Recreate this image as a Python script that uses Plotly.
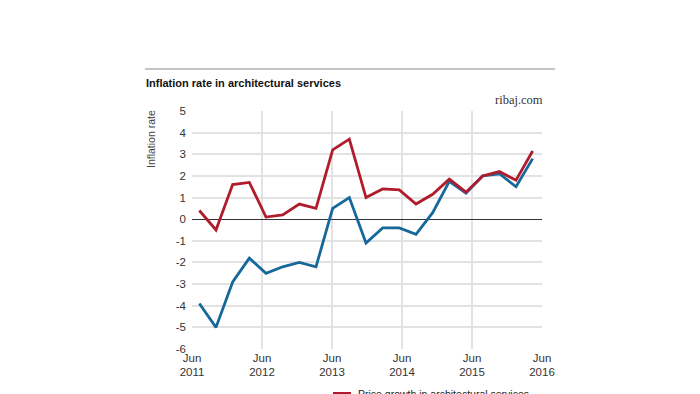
import plotly.graph_objects as go

# ---- data ----
quarters = ["Q3 2011", "Q4 2011", "Q1 2012", "Q2 2012", "Q3 2012", "Q4 2012", "Q1 2013",
            "Q2 2013", "Q3 2013", "Q4 2013", "Q1 2014", "Q2 2014", "Q3 2014", "Q4 2014",
            "Q1 2015", "Q2 2015", "Q3 2015", "Q4 2015", "Q1 2016", "Q2 2016", "Q3 2016"]
price_growth = [0.4, -0.5, 1.6, 1.7, 0.1, 0.2, 0.7, 0.5, 3.2, 3.7, 1.0,
                1.4, 1.35, 0.7, 1.15, 1.85, 1.25, 2.0, 2.2, 1.8, 3.15]
real_growth = [-3.9, -5.0, -2.9, -1.8, -2.5, -2.2, -2.0, -2.2, 0.5, 1.0, -1.1,
               -0.4, -0.4, -0.7, 0.3, 1.75, 1.2, 2.0, 2.1, 1.5, 2.8]
x_tick_labels = ["Jun<br>2011", "Jun<br>2012", "Jun<br>2013", "Jun<br>2014", "Jun<br>2015", "Jun<br>2016"]
y_tick_values = [5, 4, 3, 2, 1, 0, -1, -2, -3, -4, -5, -6]
title_text = "Inflation rate in architectural services"
source_text = "ribaj.com"
y_title = "Inflation rate"
legend_red = "Price growth in architectural services"
legend_blue = "Real price growth in architectural services"

RED = "#b01c2c"
BLUE = "#17689a"

idx = list(range(len(quarters)))

# axis geometry (positions of Jun gridlines in index units)
x_start = -0.44
step = 4.2
tickvals_x = [x_start + step * k for k in range(len(x_tick_labels))]

fig = go.Figure()
fig.add_trace(go.Scatter(x=idx, y=real_growth, mode="lines", name=legend_blue,
                         line=dict(color=BLUE, width=2.8), text=quarters, showlegend=False))
fig.add_trace(go.Scatter(x=idx, y=price_growth, mode="lines", name=legend_red,
                         line=dict(color=RED, width=2.8), text=quarters, showlegend=False))

# the page body adds an 8px offset; work in screen pixels and compensate
OFF = 8
W, H = 700, 394
S_L, S_R, S_T, S_B = 192, 542, 111, 349   # plot area edges on screen
L, T = S_L - OFF, S_T - OFF
R = W - (S_R - OFF)
B = H - (S_B - OFF)
pw, ph = S_R - S_L, S_B - S_T

def px_x(p):
    return (p - S_L) / pw

def px_y(p):
    return (S_B - p) / ph

fig.update_layout(
    width=W, height=H,
    margin=dict(l=L, r=R, t=T, b=B, autoexpand=False),
    paper_bgcolor="white", plot_bgcolor="white",
    font=dict(family="Liberation Sans, Arial, sans-serif", size=11.5, color="#333333"),
    xaxis=dict(range=[x_start, x_start + step * 5], tickvals=tickvals_x, ticktext=x_tick_labels,
               showgrid=True, gridcolor="#e2e2e2", gridwidth=1.5, zeroline=False,
               showline=False, ticks="", tickfont=dict(size=11.5, color="#333333"),
               fixedrange=True),
    yaxis=dict(range=[-6, 5], tickvals=y_tick_values, ticktext=[str(v) for v in y_tick_values],
               showgrid=True, gridcolor="#e2e2e2", gridwidth=1.5,
               zeroline=True, zerolinecolor="#333333", zerolinewidth=1,
               showline=False, ticks="", tickfont=dict(size=11.5, color="#333333"),
               ticklabelstandoff=5, fixedrange=True),
    showlegend=False,
)

# top rule
fig.add_shape(type="line", xref="paper", yref="paper", x0=px_x(145), x1=px_x(555),
              y0=px_y(69), y1=px_y(69), line=dict(color="#b0b0b0", width=1.5))

# title
fig.add_annotation(text="<b>" + title_text + "</b>", xref="paper", yref="paper",
                   x=px_x(144), y=px_y(83), xanchor="left", yanchor="middle", showarrow=False,
                   font=dict(family="Liberation Sans, Arial, sans-serif", size=11, color="#111111"))
# source
fig.add_annotation(text=source_text, xref="paper", yref="paper",
                   x=px_x(545), y=px_y(100), xanchor="right", yanchor="middle", showarrow=False,
                   font=dict(family="Liberation Serif, DejaVu Serif, serif", size=12.5, color="#333333"))
# y title
fig.add_annotation(text=y_title, xref="paper", yref="paper", textangle=-90,
                   x=px_x(151), y=px_y(139), xanchor="center", yanchor="middle", showarrow=False,
                   font=dict(family="Liberation Sans, Arial, sans-serif", size=10.5, color="#444444"))
# legend (partly cut at the bottom as in the reference)
fig.add_shape(type="rect", xref="paper", yref="paper", x0=px_x(333), x1=px_x(351),
              y0=px_y(392), y1=px_y(402), line=dict(width=0), fillcolor=RED)
fig.add_annotation(text=legend_red, xref="paper", yref="paper",
                   x=px_x(356), y=px_y(386), xanchor="left", yanchor="top", showarrow=False,
                   font=dict(family="Liberation Sans, Arial, sans-serif", size=10.5, color="#222222"))

fig.write_html("out.html")
